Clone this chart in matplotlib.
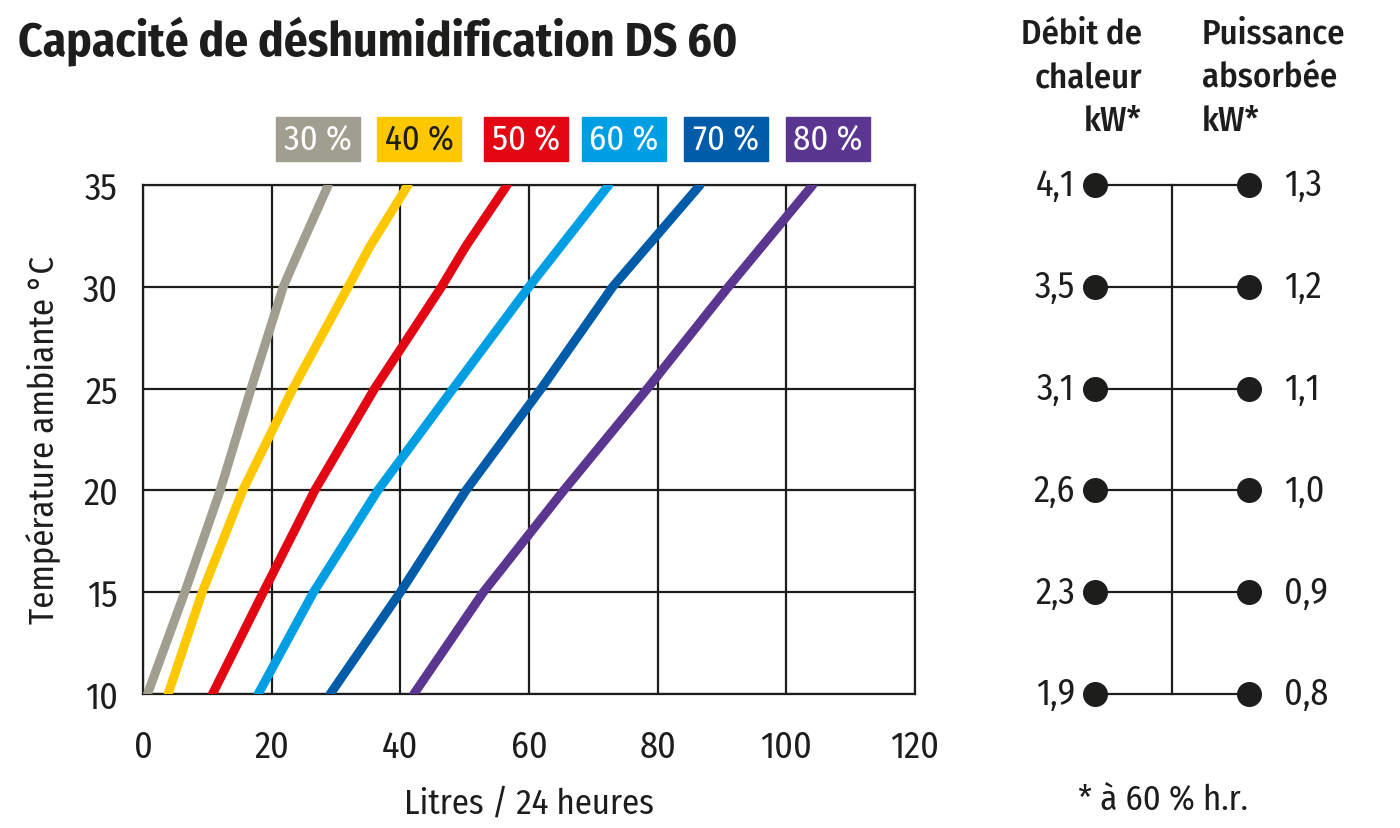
import numpy as np
import matplotlib
matplotlib.use("Agg")
import matplotlib.pyplot as plt

plt.rcParams['font.family'] = ['Fira Sans Condensed', 'DejaVu Sans']

# dehumidification curves: litres / 24 h at ambient temperature, per relative humidity
labels = ["30 %", "40 %", "50 %", "60 %", "70 %", "80 %"]
colors = ["#a09e8e", "#fdc800", "#e30613", "#009fe3", "#005ca9", "#5a3690"]
text_colors = ["white", "#1d1d1b", "white", "white", "white", "white"]

t_30 = [10, 15, 20, 25, 30, 31.6, 35]
l_30 = [0.7, 6.5, 12.0, 16.8, 21.8, 24.0, 28.8]
t_40 = [10, 15, 20, 25, 30, 32, 35]
l_40 = [3.9, 9.2, 15.5, 23.3, 31.9, 35.3, 41.2]
t_50 = [10, 15, 20, 25, 30, 32, 35]
l_50 = [10.8, 18.7, 26.7, 36.0, 46.4, 50.2, 56.6]
t_60 = [10, 15, 20, 25, 30, 35]
l_60 = [17.9, 26.5, 36.5, 48.2, 60.0, 72.4]
t_70 = [10, 15, 20, 25, 30, 35]
l_70 = [29.1, 40.0, 50.2, 61.9, 73.0, 86.6]
t_80 = [10, 15, 20, 25, 30, 35]
l_80 = [42.1, 52.9, 65.4, 78.4, 91.0, 104.1]

series_t = [t_30, t_40, t_50, t_60, t_70, t_80]
series_l = [l_30, l_40, l_50, l_60, l_70, l_80]

# right panel: heat output and absorbed power per temperature row (at 60 % r.h.)
row_temps = [10, 15, 20, 25, 30, 35]
heat_kw = [1.9, 2.3, 2.6, 3.1, 3.5, 4.1]
power_kw = [0.8, 0.9, 1.0, 1.1, 1.2, 1.3]

W, H = 1400, 829
INK = '#1d1d1b'
fig = plt.figure(figsize=(14, 8.29), dpi=100)

def fx(px):
    return px / W

def fy(py):
    return 1 - py / H

ax = fig.add_axes([fx(143), fy(695), fx(915) - fx(143), fy(186) - fy(695)])
for t, l, c in zip(series_t, series_l, colors):
    ax.plot(l, t, color=c, lw=6.5, solid_capstyle='round', solid_joinstyle='round', zorder=3)

ax.set_xlim(0, 120)
ax.set_ylim(10, 35)
ax.set_xticks(np.arange(0, 121, 20))
ax.set_yticks(np.arange(10, 36, 5))
ax.grid(True, color=INK, lw=1.6)
for s in ax.spines.values():
    s.set_color(INK)
    s.set_linewidth(1.6)
ax.tick_params(length=0, labelsize=26, colors=INK)
ax.tick_params(axis='x', pad=25)
ax.tick_params(axis='y', pad=18)
ax.set_xlabel("Litres / 24 heures", fontsize=25, color=INK, labelpad=16)
ax.set_ylabel("Température ambiante °C", fontsize=25, color=INK, labelpad=16)

# legend boxes above the plot
box_left = [276, 377, 484, 582, 684, 786]
for bx, lab, c, tc in zip(box_left, labels, colors, text_colors):
    fig.patches.append(plt.Rectangle((fx(bx), fy(162)), fx(84), fy(118) - fy(162),
                                     transform=fig.transFigure, color=c))
    fig.text(fx(bx + 42), fy(141), lab, ha='center', va='center', fontsize=25, color=tc)

fig.text(fx(18), fy(42), "Capacité de déshumidification DS 60", fontsize=34,
         fontweight='bold', color=INK, va='center', ha='left')

# right panel
ax2 = fig.add_axes([fx(1000), fy(695), fx(1380) - fx(1000), fy(186) - fy(695)])
ax2.set_xlim(-95 / 154, 285 / 154)
ax2.set_ylim(10, 35)
ax2.axis('off')
ax2.plot([0.5, 0.5], [min(row_temps), max(row_temps)], color=INK, lw=1.6, clip_on=False)
for t, h, p in zip(row_temps, heat_kw, power_kw):
    ax2.plot([0, 1], [t, t], color=INK, lw=1.6, clip_on=False)
    ax2.plot([0, 1], [t, t], 'o', color=INK, ms=17, clip_on=False)
    ax2.text(-0.13, t, f"{h:.1f}".replace('.', ','), ha='right', va='center', fontsize=26, color=INK)
    ax2.text(1.23, t, f"{p:.1f}".replace('.', ','), ha='left', va='center', fontsize=26, color=INK)

fig.text(fx(1142), fy(78), "Débit de\nchaleur\nkW*", ha='right', va='center', fontsize=25,
         fontweight='medium', color=INK, linespacing=1.4)
fig.text(fx(1202), fy(78), "Puissance\nabsorbée\nkW*", ha='left', va='center', fontsize=25,
         fontweight='medium', color=INK, linespacing=1.4)
fig.text(fx(1163), fy(800), "* à 60 % h.r.", ha='center', va='center', fontsize=25, color=INK)

fig.savefig("out.png", dpi=100)
